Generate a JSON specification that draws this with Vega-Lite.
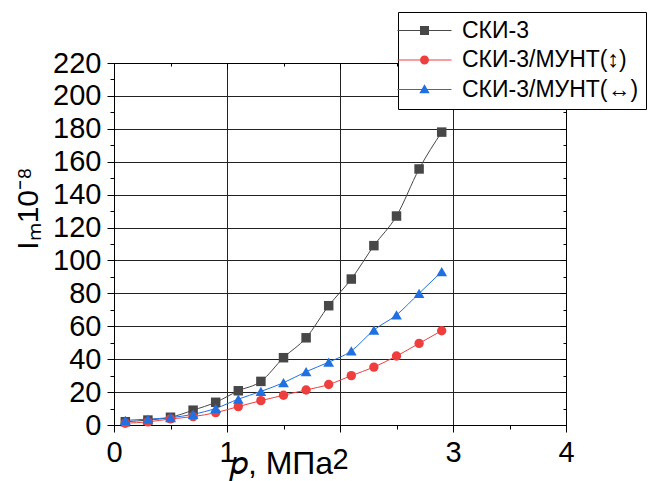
{
  "$schema": "https://vega.github.io/schema/vega-lite/v6.json",
  "autosize": {"type": "none"},
  "padding": {"left": 114, "top": 63, "right": 83, "bottom": 56},
  "width": 452,
  "height": 362,
  "background": "white",
  "config": {"view": {"stroke": null}, "font": "Liberation Sans"},
  "data": {"values": [
    {"p": 0.1, "v": 2.0, "s": "СКИ-3"},
    {"p": 0.3, "v": 3.0, "s": "СКИ-3"},
    {"p": 0.5, "v": 4.7, "s": "СКИ-3"},
    {"p": 0.7, "v": 9.0, "s": "СКИ-3"},
    {"p": 0.9, "v": 13.8, "s": "СКИ-3"},
    {"p": 1.1, "v": 20.8, "s": "СКИ-3"},
    {"p": 1.3, "v": 26.5, "s": "СКИ-3"},
    {"p": 1.5, "v": 40.9, "s": "СКИ-3"},
    {"p": 1.7, "v": 53.0, "s": "СКИ-3"},
    {"p": 1.9, "v": 72.5, "s": "СКИ-3"},
    {"p": 2.1, "v": 88.7, "s": "СКИ-3"},
    {"p": 2.3, "v": 109.0, "s": "СКИ-3"},
    {"p": 2.5, "v": 127.0, "s": "СКИ-3"},
    {"p": 2.7, "v": 155.6, "s": "СКИ-3"},
    {"p": 2.9, "v": 178.0, "s": "СКИ-3"},
    {"p": 0.1, "v": 1.1, "s": "СКИ-3/МУНТ(↕)"},
    {"p": 0.3, "v": 1.9, "s": "СКИ-3/МУНТ(↕)"},
    {"p": 0.5, "v": 3.7, "s": "СКИ-3/МУНТ(↕)"},
    {"p": 0.7, "v": 5.1, "s": "СКИ-3/МУНТ(↕)"},
    {"p": 0.9, "v": 7.5, "s": "СКИ-3/МУНТ(↕)"},
    {"p": 1.1, "v": 11.2, "s": "СКИ-3/МУНТ(↕)"},
    {"p": 1.3, "v": 14.8, "s": "СКИ-3/МУНТ(↕)"},
    {"p": 1.5, "v": 18.1, "s": "СКИ-3/МУНТ(↕)"},
    {"p": 1.7, "v": 21.3, "s": "СКИ-3/МУНТ(↕)"},
    {"p": 1.9, "v": 24.6, "s": "СКИ-3/МУНТ(↕)"},
    {"p": 2.1, "v": 30.0, "s": "СКИ-3/МУНТ(↕)"},
    {"p": 2.3, "v": 35.2, "s": "СКИ-3/МУНТ(↕)"},
    {"p": 2.5, "v": 41.9, "s": "СКИ-3/МУНТ(↕)"},
    {"p": 2.7, "v": 49.6, "s": "СКИ-3/МУНТ(↕)"},
    {"p": 2.9, "v": 57.3, "s": "СКИ-3/МУНТ(↕)"},
    {"p": 0.1, "v": 2.8, "s": "СКИ-3/МУНТ(↔)"},
    {"p": 0.3, "v": 3.6, "s": "СКИ-3/МУНТ(↔)"},
    {"p": 0.5, "v": 4.5, "s": "СКИ-3/МУНТ(↔)"},
    {"p": 0.7, "v": 6.5, "s": "СКИ-3/МУНТ(↔)"},
    {"p": 0.9, "v": 10.1, "s": "СКИ-3/МУНТ(↔)"},
    {"p": 1.1, "v": 15.7, "s": "СКИ-3/МУНТ(↔)"},
    {"p": 1.3, "v": 20.4, "s": "СКИ-3/МУНТ(↔)"},
    {"p": 1.5, "v": 25.7, "s": "СКИ-3/МУНТ(↔)"},
    {"p": 1.7, "v": 32.4, "s": "СКИ-3/МУНТ(↔)"},
    {"p": 1.9, "v": 38.2, "s": "СКИ-3/МУНТ(↔)"},
    {"p": 2.1, "v": 45.0, "s": "СКИ-3/МУНТ(↔)"},
    {"p": 2.3, "v": 57.7, "s": "СКИ-3/МУНТ(↔)"},
    {"p": 2.5, "v": 66.9, "s": "СКИ-3/МУНТ(↔)"},
    {"p": 2.7, "v": 80.0, "s": "СКИ-3/МУНТ(↔)"},
    {"p": 2.9, "v": 93.2, "s": "СКИ-3/МУНТ(↔)"}
  ]},
  "resolve": {"axis": {"x": "independent", "y": "independent"}},
  "layer": [
    {
      "mark": {"type": "line", "interpolate": "monotone", "strokeWidth": 1},
      "encoding": {
        "x": {
          "field": "p", "type": "quantitative",
          "scale": {"domain": [0, 4], "nice": false, "zero": false},
          "axis": {
            "orient": "bottom",
            "values": [0, 0.5, 1, 1.5, 2, 2.5, 3, 3.5, 4],
            "labelExpr": "datum.value % 1 === 0 ? datum.value : ''",
            "labelFlush": false, "labelOverlap": false,
            "labelFont": "Liberation Sans", "labelFontSize": 29, "labelColor": "black",
            "labelPadding": {"condition": {"test": "datum.value === 2", "value": 13}, "value": 6},
            "tickColor": "black", "tickWidth": 1,
            "tickSize": {"condition": {"test": "datum.value % 1 === 0", "value": 7}, "value": 4},
            "domainColor": "black", "domainWidth": 1,
            "grid": true, "gridColor": "#222222", "gridWidth": 1,
            "gridOpacity": {"condition": {"test": "datum.value % 1 === 0", "value": 1}, "value": 0},
            "title": "𝑝, МПа",
            "titleFont": "Liberation Sans", "titleFontSize": 32, "titleFontWeight": "normal", "titleColor": "black",
            "titleX": 167, "titleY": 48, "titleBaseline": "alphabetic", "titleAlign": "center"
          }
        },
        "y": {
          "field": "v", "type": "quantitative",
          "scale": {"domain": [0, 220], "nice": false},
          "axis": {
            "orient": "left",
            "values": [0, 10, 20, 30, 40, 50, 60, 70, 80, 90, 100, 110, 120, 130, 140, 150, 160, 170, 180, 190, 200, 210, 220],
            "labelExpr": "datum.value % 20 === 0 ? datum.value : ''",
            "labelFlush": false, "labelOverlap": false,
            "labelFont": "Liberation Sans", "labelFontSize": 29, "labelColor": "black", "labelPadding": 6,
            "tickColor": "black", "tickWidth": 1,
            "tickSize": {"condition": {"test": "datum.value % 20 === 0", "value": 7}, "value": 4},
            "domainColor": "black", "domainWidth": 1,
            "grid": true, "gridColor": "#222222", "gridWidth": 1,
            "gridOpacity": {"condition": {"test": "datum.value % 20 === 0", "value": 1}, "value": 0},
            "title": "Iₘ10⁻⁸",
            "titleFont": "Liberation Sans", "titleFontSize": 30, "titleFontWeight": "normal", "titleColor": "black",
            "titleX": -77, "titleY": 145, "titleBaseline": "alphabetic", "titleAlign": "center", "titleAngle": -90
          }
        },
        "color": {
          "field": "s", "type": "nominal",
          "scale": {"domain": ["СКИ-3", "СКИ-3/МУНТ(↕)", "СКИ-3/МУНТ(↔)"], "range": ["#474747", "#ef3e3e", "#2170e2"]}
        }
      }
    },
    {
      "transform": [{"filter": "datum.s === 'СКИ-3'"}],
      "mark": {"type": "point", "filled": true, "size": 90, "opacity": 1, "shape": "square"},
      "encoding": {
        "x": {
          "field": "p", "type": "quantitative",
          "scale": {"domain": [0, 4], "nice": false, "zero": false},
          "axis": {
            "orient": "top",
            "values": [0, 0.5, 1, 1.5, 2, 2.5, 3, 3.5, 4],
            "labels": false, "grid": false, "title": null,
            "tickColor": "black", "tickWidth": 1,
            "tickSize": {"condition": {"test": "datum.value % 1 === 0", "value": -6}, "value": -3},
            "domainColor": "black", "domainWidth": 1
          }
        },
        "y": {
          "field": "v", "type": "quantitative",
          "scale": {"domain": [0, 220], "nice": false},
          "axis": {
            "orient": "right",
            "values": [0, 10, 20, 30, 40, 50, 60, 70, 80, 90, 100, 110, 120, 130, 140, 150, 160, 170, 180, 190, 200, 210, 220],
            "labels": false, "grid": false, "title": null,
            "tickColor": "black", "tickWidth": 1,
            "tickSize": {"condition": {"test": "datum.value % 20 === 0", "value": -6}, "value": -3},
            "domainColor": "black", "domainWidth": 1
          }
        },
        "color": {"field": "s", "type": "nominal"}
      }
    },
    {
      "transform": [{"filter": "datum.s === 'СКИ-3/МУНТ(↕)'"}],
      "mark": {"type": "point", "filled": true, "size": 88, "opacity": 1, "shape": "circle"},
      "encoding": {
        "x": {"field": "p", "type": "quantitative", "axis": null},
        "y": {"field": "v", "type": "quantitative", "axis": null},
        "color": {"field": "s", "type": "nominal"}
      }
    },
    {
      "transform": [{"filter": "datum.s === 'СКИ-3/МУНТ(↔)'"}],
      "mark": {"type": "point", "filled": true, "size": 115, "opacity": 1, "shape": "triangle-up"},
      "encoding": {
        "x": {"field": "p", "type": "quantitative", "axis": null},
        "y": {"field": "v", "type": "quantitative", "axis": null},
        "color": {"field": "s", "type": "nominal"}
      }
    },
    {
      "mark": {"type": "point", "filled": true, "size": 81, "opacity": 0},
      "encoding": {
        "x": {"field": "p", "type": "quantitative", "axis": null},
        "y": {"field": "v", "type": "quantitative", "axis": null},
        "color": {
          "field": "s", "type": "nominal",
          "legend": {
            "orient": "none", "legendX": 284, "legendY": -51,
            "title": null,
            "labelFont": "Liberation Sans", "labelFontSize": 23, "labelColor": "black", "labelLimit": 400,
            "strokeColor": "black", "fillColor": "white", "padding": 7, "rowPadding": 5.5,
            "symbolSize": 81, "symbolOffset": 8, "labelOffset": 26, "symbolStrokeWidth": 0, "symbolOpacity": 1
          }
        },
        "shape": {
          "field": "s", "type": "nominal",
          "scale": {
            "domain": ["СКИ-3", "СКИ-3/МУНТ(↕)", "СКИ-3/МУНТ(↔)"],
            "range": [
              "M-6,-0.12H6V0.12H-6Z M-1,-1H1V1H-1Z",
              "M-6,-0.12H6V0.12H-6Z M1,0A1,1 0 1,1 -1,0A1,1 0 1,1 1,0Z",
              "M-6,-0.12H6V0.12H-6Z M0,-1.15L1.15,0.85L-1.15,0.85Z"
            ]
          },
          "legend": {
            "orient": "none", "legendX": 284, "legendY": -51,
            "title": null,
            "labelFont": "Liberation Sans", "labelFontSize": 23, "labelColor": "black", "labelLimit": 400,
            "strokeColor": "black", "fillColor": "white", "padding": 7, "rowPadding": 5.5,
            "symbolSize": 81, "symbolOffset": 8, "labelOffset": 26, "symbolStrokeWidth": 0, "symbolOpacity": 1
          }
        }
      }
    }
  ]
}
